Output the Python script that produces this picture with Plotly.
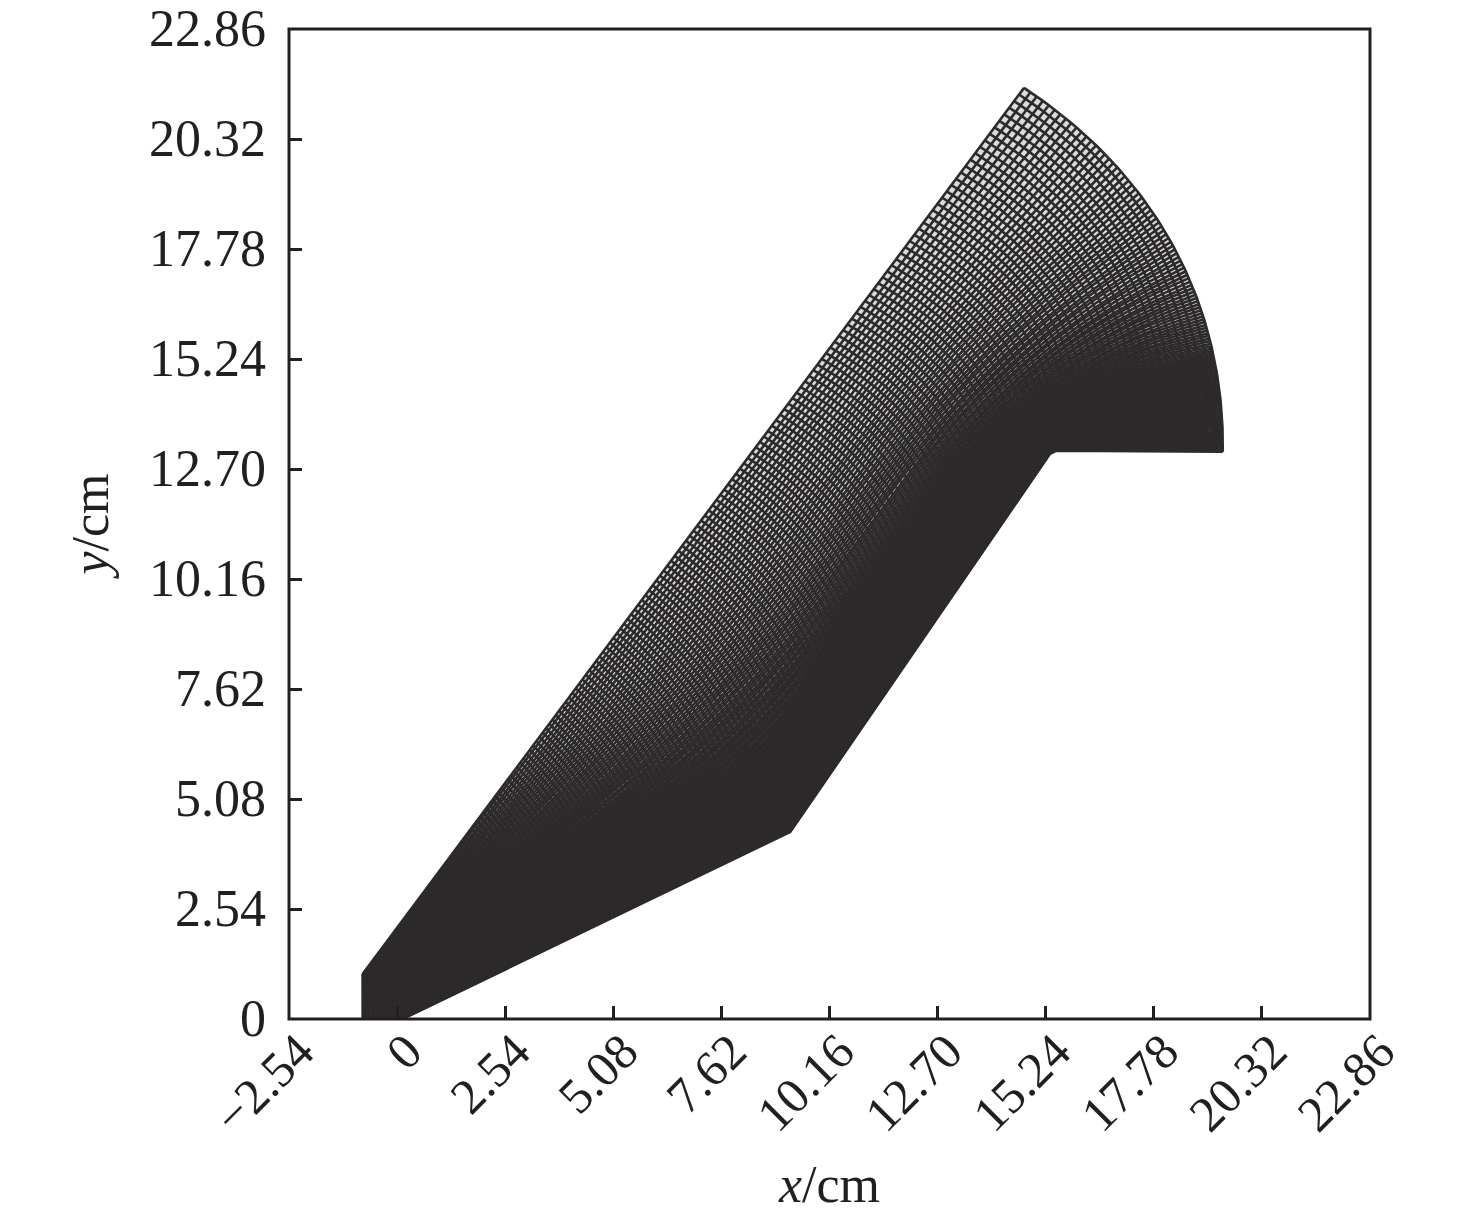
import numpy as np
import plotly.graph_objects as go

# Values (cm)
tick_values = [-2.54, 0, 2.54, 5.08, 7.62, 10.16, 12.70, 15.24, 17.78, 20.32, 22.86]
x_tick_labels = ["\u22122.54", "0", "2.54", "5.08", "7.62", "10.16", "12.70", "15.24", "17.78", "20.32", "22.86"]
y_tick_values = tick_values[1:]
y_tick_labels = x_tick_labels[1:]

inner_x = [-0.81, 0.13, 9.24, 15.39, 19.40]
inner_y = [0.00, 0.00, 4.32, 13.12, 13.10]
outer_x = [-0.81, 14.73]
outer_y = [1.04, 21.50]
arc_x = [14.73, 16.12, 17.29, 18.09, 18.70, 19.10, 19.33, 19.40]
arc_y = [21.50, 20.46, 19.21, 18.15, 16.84, 15.68, 14.46, 13.10]

# Mesh resolution and spacing, estimated by counting cells in the picture.
# The mesh is too fine to read line by line, so its interior lines are
# derived from the boundary values above.
cross_gap_first = 4.2
cross_growth = 1.0036
n_cross = 181
dense_lines = 50
dense_gap = 2.0
along_start = 2.5
along_growth = 1.0165
n_along = 122


def resample(xs, ys, t):
    xs, ys = np.asarray(xs, float), np.asarray(ys, float)
    s = np.r_[0, np.cumsum(np.hypot(np.diff(xs), np.diff(ys)))]
    s /= s[-1]
    return np.interp(t, s, xs), np.interp(t, s, ys)


def smooth(v, w):
    if w < 1:
        return v
    pad_l = 2 * v[0] - v[w:0:-1]
    pad_r = 2 * v[-1] - v[-2:-w - 2:-1]
    return np.convolve(np.r_[pad_l, v, pad_r], np.ones(2 * w + 1) / (2 * w + 1), "valid")


gaps = np.r_[np.full(dense_lines, dense_gap),
             along_start * along_growth ** np.arange(n_along - dense_lines)]
eta = np.r_[0, np.cumsum(gaps)]
eta /= eta[-1]
u = np.r_[0, np.cumsum(cross_gap_first * cross_growth ** np.arange(n_cross))]
u /= u[-1]

bx, by = resample(inner_x, inner_y, u)
tx, ty = resample(outer_x, outer_y, u)
sa = np.r_[0, np.cumsum(np.hypot(np.diff(arc_x), np.diff(arc_y)))]
sa /= sa[-1]
cx, cy = np.polyfit(sa, arc_x, 4), np.polyfit(sa, arc_y, 4)
rx, ry = np.polyval(cx, 1 - eta), np.polyval(cy, 1 - eta)
lx, ly = np.full_like(eta, outer_x[0]), inner_y[0] + eta * (outer_y[0] - inner_y[0])

X = np.zeros((len(eta), len(u)))
Y = np.zeros_like(X)
for j, e in enumerate(eta):
    w = int(max(e - 0.03, 0) ** 0.7 * 0.25 * n_cross)
    sx, sy = smooth(bx, w), smooth(by, w)
    X[j] = (1 - e) * sx + e * tx + (1 - u) * lx[j] + u * rx[j] \
        - ((1 - u) * ((1 - e) * bx[0] + e * tx[0]) + u * ((1 - e) * bx[-1] + e * tx[-1]))
    Y[j] = (1 - e) * sy + e * ty + (1 - u) * ly[j] + u * ry[j] \
        - ((1 - u) * ((1 - e) * by[0] + e * ty[0]) + u * ((1 - e) * by[-1] + e * ty[-1]))


def joined(P):
    out = np.full((P.shape[0], P.shape[1] + 1), np.nan)
    out[:, :-1] = P
    return out.ravel()


mesh_colour = "#2d2a2b"
ink = "#231f20"
line_width = 2.6
fig = go.Figure()
fig.add_trace(go.Scatter(
    x=np.r_[X[0], X[:, -1], X[-1][::-1], X[:, 0][::-1]],
    y=np.r_[Y[0], Y[:, -1], Y[-1][::-1], Y[:, 0][::-1]],
    mode="lines", fill="toself", fillcolor="#dcdbdb", line=dict(width=0), hoverinfo="skip"))
fig.add_trace(go.Scatter(x=joined(X), y=joined(Y), mode="lines",
                         line=dict(color=mesh_colour, width=line_width), hoverinfo="skip"))
fig.add_trace(go.Scatter(x=joined(X.T), y=joined(Y.T), mode="lines",
                         line=dict(color=mesh_colour, width=line_width), hoverinfo="skip"))

font = dict(family="Liberation Serif", size=52, color=ink)
axis = dict(showgrid=False, zeroline=False, showline=False,
            ticks="inside", ticklen=13, tickwidth=2.5, tickcolor=ink, automargin=False)
fig.update_layout(
    width=1476, height=1217, autosize=False, showlegend=False,
    paper_bgcolor="white", plot_bgcolor="white",
    margin=dict(l=288.5, r=105.5, t=29, b=197.5),
    xaxis=dict(axis, range=[-2.54, 22.86], tickmode="array", tickvals=tick_values, ticktext=x_tick_labels,
               tickfont=dict(font, size=50), tickangle=-45, ticklabelstandoff=-8, ticklabelshift=10,
               title=dict(text="<i>x</i>/cm", font=font, standoff=22)),
    yaxis=dict(axis, range=[0, 22.86], tickmode="array", tickvals=y_tick_values, ticktext=y_tick_labels,
               tickfont=font, ticklabelstandoff=22, ticklabelshift=-1, ticklabeloverflow="allow",
               title=dict(text="<i>y</i>/cm", font=font, standoff=23)),
    shapes=[dict(type="rect", xref="paper", yref="paper", x0=0, x1=1, y0=0, y1=1,
                 line=dict(color=ink, width=3), layer="above")],
)
fig.write_html("out.html", config={"displayModeBar": False},
               post_script="document.body.style.margin='0';document.body.style.overflow='hidden';")
